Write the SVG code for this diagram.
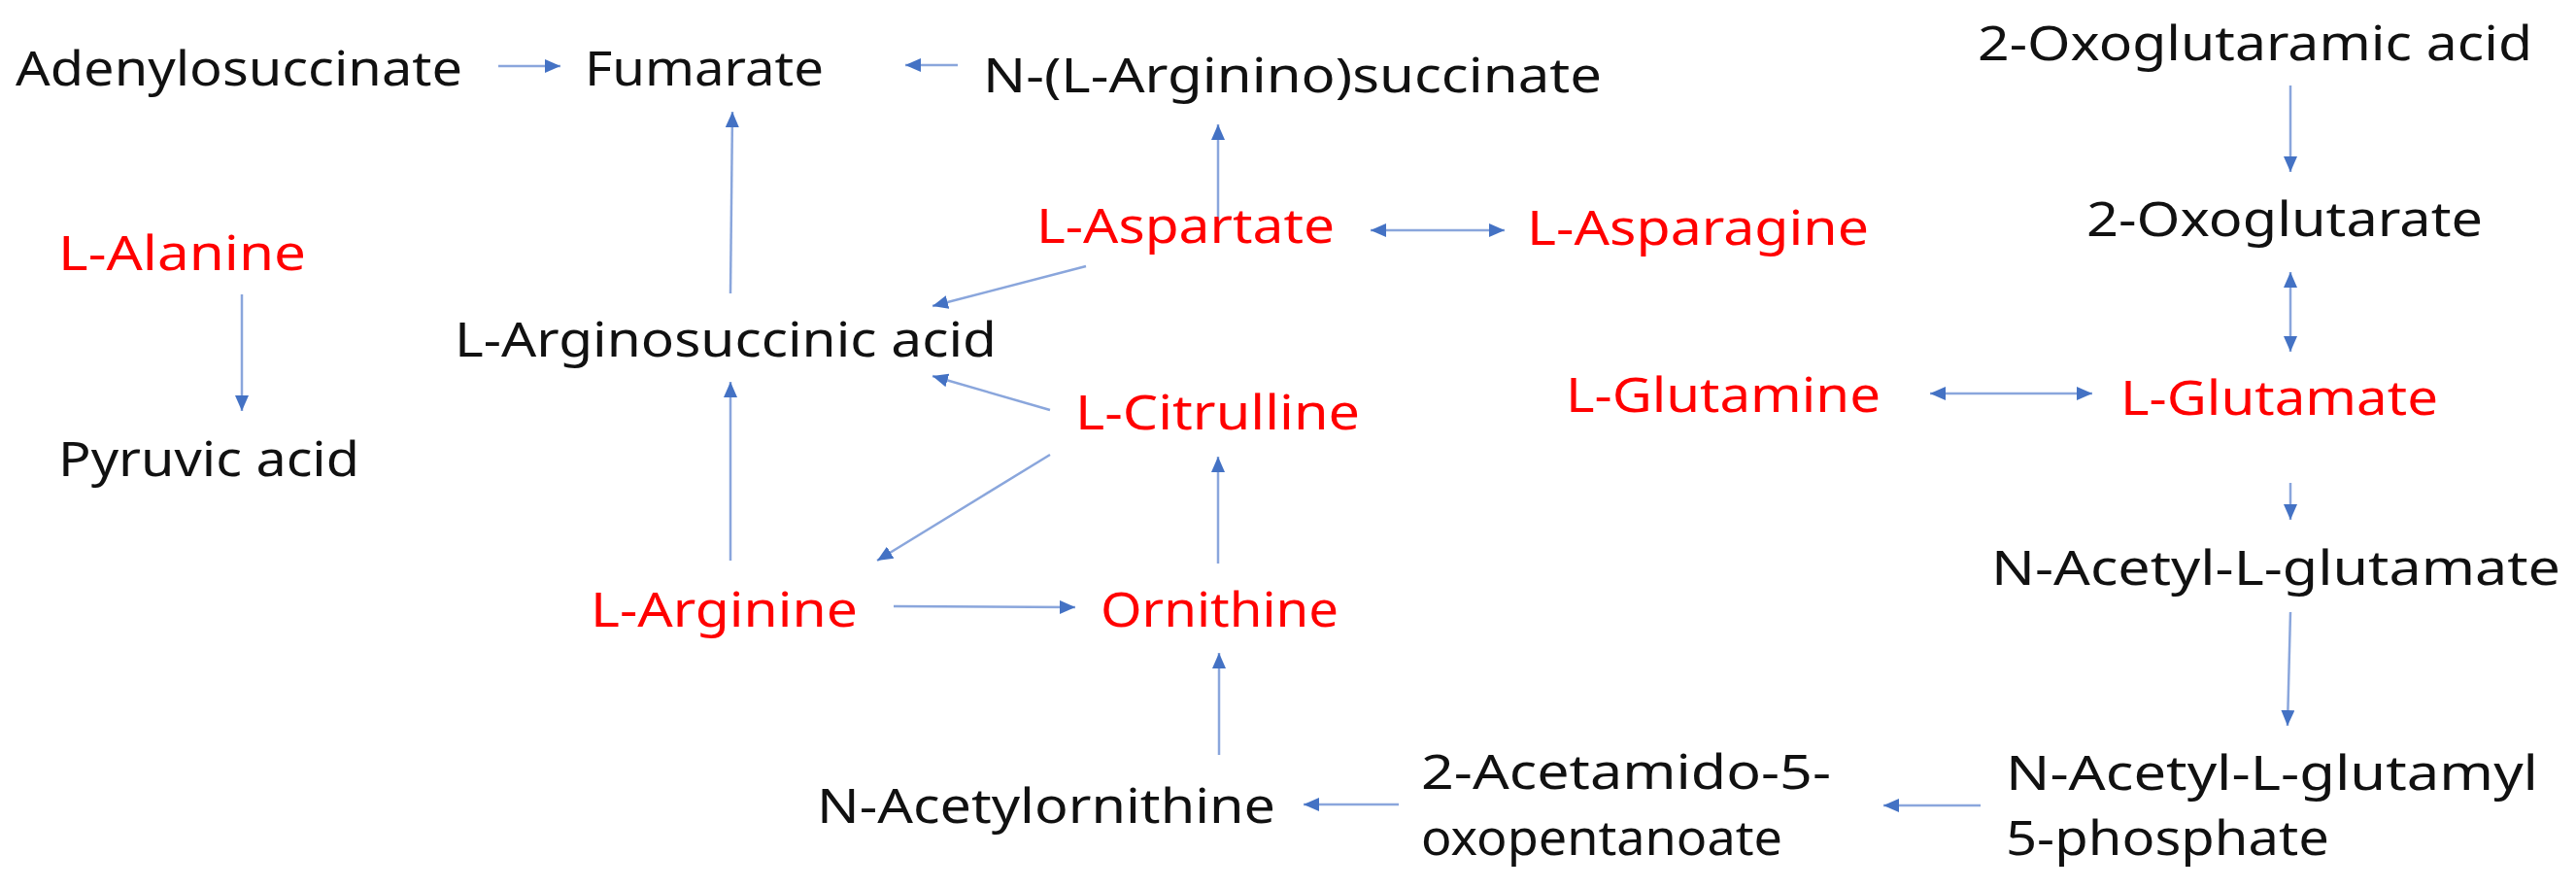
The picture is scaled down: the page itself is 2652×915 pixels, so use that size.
<svg xmlns="http://www.w3.org/2000/svg" width="2652" height="915" viewBox="0 0 2652 915">
<style>
text{font-family:"Noto Sans","Liberation Sans",sans-serif;font-size:50px;fill:#111}
.r{fill:#ff0000}
.c{stroke:#8aa6dc;stroke-width:2.5;fill:none;marker-end:url(#h)}
.b{marker-start:url(#hs)}
</style>
<defs>
<marker id="h" markerUnits="userSpaceOnUse" markerWidth="16" markerHeight="14" viewBox="0 0 16 14" refX="16" refY="7" orient="auto"><path d="M0,0L16,7L0,14z" fill="#4472c4"/></marker>
<marker id="hs" markerUnits="userSpaceOnUse" markerWidth="16" markerHeight="14" viewBox="0 0 16 14" refX="0" refY="7" orient="auto"><path d="M16,0L0,7L16,14z" fill="#4472c4"/></marker>
</defs>
<rect width="2652" height="915" fill="#fff"/>
<g id="connectors">
<line class="c" x1="513" y1="68" x2="577" y2="68"/>
<line class="c" x1="986" y1="67" x2="932" y2="67"/>
<line class="c" x1="752" y1="302" x2="754" y2="115"/>
<line class="c" x1="249" y1="303" x2="249" y2="423"/>
<line class="c" x1="752" y1="577" x2="752" y2="393"/>
<line class="c" x1="1254" y1="228" x2="1254" y2="128"/>
<line class="c b" x1="1411" y1="237" x2="1549" y2="237"/>
<line class="c" x1="1118" y1="274" x2="960" y2="315"/>
<line class="c" x1="1081" y1="422" x2="960" y2="387"/>
<line class="c" x1="1081" y1="468" x2="903" y2="577"/>
<line class="c" x1="920" y1="624" x2="1107" y2="625"/>
<line class="c" x1="1254" y1="580" x2="1254" y2="470"/>
<line class="c" x1="1255" y1="777" x2="1255" y2="672"/>
<line class="c" x1="1440" y1="828" x2="1342" y2="828"/>
<line class="c" x1="2039" y1="829" x2="1939" y2="829"/>
<line class="c" x1="2358" y1="630" x2="2355" y2="747"/>
<line class="c" x1="2358" y1="497" x2="2358" y2="535"/>
<line class="c b" x1="1987" y1="405" x2="2154" y2="405"/>
<line class="c b" x1="2358" y1="280" x2="2358" y2="362"/>
<line class="c" x1="2358" y1="88" x2="2358" y2="177"/>
</g>
<g id="adenylosuccinate"><text x="16" y="88" textLength="460" lengthAdjust="spacingAndGlyphs">Adenylosuccinate</text></g>
<g id="fumarate"><text x="602" y="88" textLength="246" lengthAdjust="spacingAndGlyphs">Fumarate</text></g>
<g id="arginino-succinate"><text x="1012" y="95" textLength="637" lengthAdjust="spacingAndGlyphs">N-(L-Arginino)succinate</text></g>
<g id="oxoglutaramic"><text x="2036" y="62" textLength="571" lengthAdjust="spacingAndGlyphs">2-Oxoglutaramic acid</text></g>
<g id="alanine"><text class="r" x="60" y="278" textLength="255" lengthAdjust="spacingAndGlyphs">L-Alanine</text></g>
<g id="pyruvic"><text x="60" y="490" textLength="310" lengthAdjust="spacingAndGlyphs">Pyruvic acid</text></g>
<g id="arginosuccinic"><text x="468" y="367" textLength="558" lengthAdjust="spacingAndGlyphs">L-Arginosuccinic acid</text></g>
<g id="aspartate"><text class="r" x="1067" y="250" textLength="307" lengthAdjust="spacingAndGlyphs">L-Aspartate</text></g>
<g id="asparagine"><text class="r" x="1572" y="252" textLength="352" lengthAdjust="spacingAndGlyphs">L-Asparagine</text></g>
<g id="oxoglutarate"><text x="2148" y="243" textLength="408" lengthAdjust="spacingAndGlyphs">2-Oxoglutarate</text></g>
<g id="citrulline"><text class="r" x="1107" y="442" textLength="293" lengthAdjust="spacingAndGlyphs">L-Citrulline</text></g>
<g id="glutamine"><text class="r" x="1612" y="424" textLength="324" lengthAdjust="spacingAndGlyphs">L-Glutamine</text></g>
<g id="glutamate"><text class="r" x="2183" y="427" textLength="327" lengthAdjust="spacingAndGlyphs">L-Glutamate</text></g>
<g id="arginine"><text class="r" x="608" y="645" textLength="275" lengthAdjust="spacingAndGlyphs">L-Arginine</text></g>
<g id="ornithine"><text class="r" x="1133" y="645" textLength="245" lengthAdjust="spacingAndGlyphs">Ornithine</text></g>
<g id="n-acetyl-glutamate"><text x="2050" y="602" textLength="586" lengthAdjust="spacingAndGlyphs">N-Acetyl-L-glutamate</text></g>
<g id="n-acetylornithine"><text x="841" y="847" textLength="472" lengthAdjust="spacingAndGlyphs">N-Acetylornithine</text></g>
<g id="acetamido"><text x="1463" y="812" textLength="422" lengthAdjust="spacingAndGlyphs">2-Acetamido-5-</text><text x="1463" y="880" textLength="372" lengthAdjust="spacingAndGlyphs">oxopentanoate</text></g>
<g id="glutamyl-phosphate"><text x="2065" y="813" textLength="548" lengthAdjust="spacingAndGlyphs">N-Acetyl-L-glutamyl</text><text x="2065" y="880" textLength="333" lengthAdjust="spacingAndGlyphs">5-phosphate</text></g>
</svg>
